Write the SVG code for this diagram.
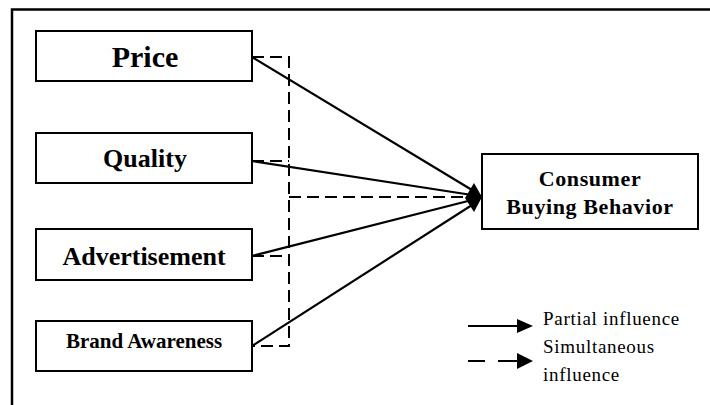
<svg xmlns="http://www.w3.org/2000/svg" width="710" height="405" viewBox="0 0 710 405">
<style>
.box{fill:#fff;stroke:#000;stroke-width:2}
.lbl{font-family:"Liberation Serif","Times New Roman",serif;font-weight:bold;text-anchor:middle;fill:#000}
.leg{font-family:"Liberation Serif","Times New Roman",serif;font-size:19px;letter-spacing:0.7px;fill:#000}
.solid{stroke:#000;stroke-width:2.2;fill:none}
.dash{stroke:#000;stroke-width:2;fill:none;stroke-dasharray:12 6}
</style>
<rect x="0" y="0" width="710" height="405" fill="#fff"/>
<path d="M12,405 V9.5 H710" fill="none" stroke="#000" stroke-width="2.5"/>
<g id="connectors">
<path class="dash" d="M252,57 H289 V346 H252"/>
<path class="dash" d="M252,161 H289"/>
<path class="dash" d="M252,256 H289"/>
<path class="dash" d="M289,197 H470" stroke-width="2.4"/>
<path class="solid" d="M252,57 L472,190"/>
<path class="solid" d="M252,161 L472,195"/>
<path class="solid" d="M252,256 L472,200"/>
<path class="solid" d="M252,346 L472,205"/>
<polygon points="474,183 482,197 474,212 465,198" fill="#000"/>
</g>
<g id="price"><rect class="box" x="36" y="31" width="216" height="50"/><text class="lbl" x="145" y="67" font-size="30">Price</text></g>
<g id="quality"><rect class="box" x="36" y="133" width="216" height="50"/><text class="lbl" x="145" y="167" font-size="26">Quality</text></g>
<g id="advertisement"><rect class="box" x="36" y="229" width="216" height="51"/><text class="lbl" x="144" y="265" font-size="26">Advertisement</text></g>
<g id="brand"><rect class="box" x="36" y="321" width="216" height="50"/><text class="lbl" x="144" y="348" font-size="21">Brand Awareness</text></g>
<g id="consumer"><rect class="box" x="482" y="154" width="216" height="75"/><text class="lbl" x="590" y="186" font-size="22" letter-spacing="0.6">Consumer</text><text class="lbl" x="590" y="214" font-size="22" letter-spacing="0.6">Buying Behavior</text></g>
<g id="legend">
<path class="solid" d="M468,326 H518"/>
<polygon points="517,319 533,326 517,333" fill="#000"/>
<path class="solid" d="M468,361 H485 M498,361 H518"/>
<polygon points="517,353 533,361 517,369" fill="#000"/>
<text class="leg" x="543" y="325">Partial influence</text>
<text class="leg" x="543" y="353">Simultaneous</text>
<text class="leg" x="543" y="381">influence</text>
</g>
</svg>
